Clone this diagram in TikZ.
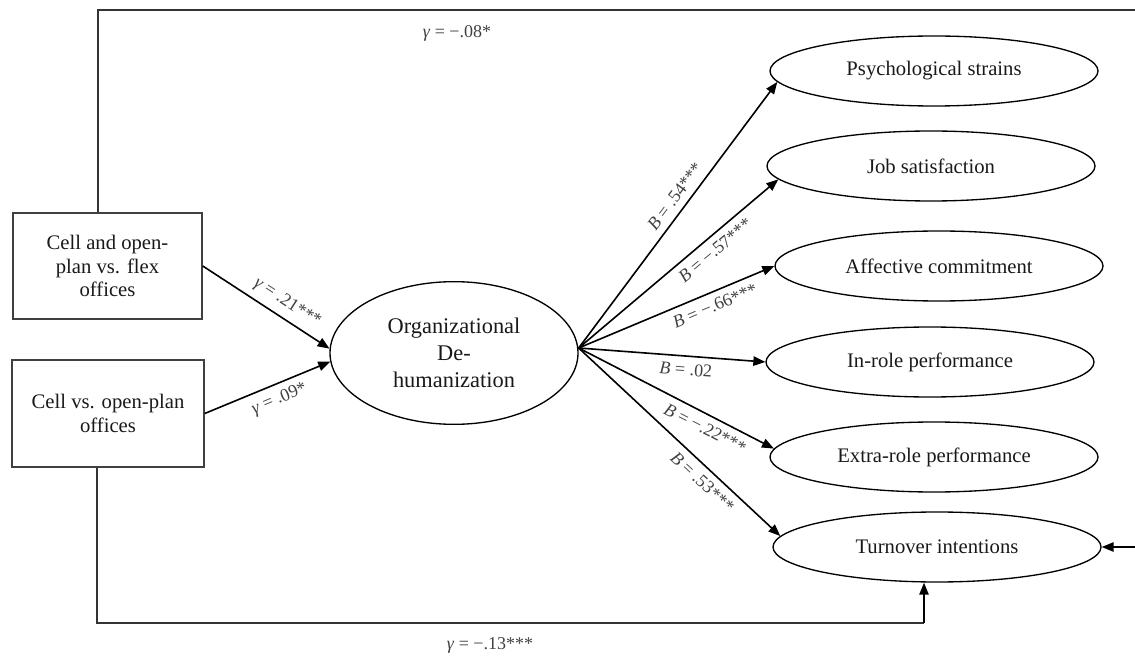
\documentclass[tikz,border=0pt]{standalone}
\usepackage{fontspec}
\setmainfont{Liberation Serif}
\usetikzlibrary{arrows.meta,calc,shapes.geometric}
\begin{document}
\begin{tikzpicture}[x=0.75pt,y=-0.75pt,
  boxst/.style={draw=black!75, line width=1.1pt, align=center, inner sep=0pt, text=black!90,
    font=\fontsize{15.5}{17.5}\selectfont},
  oval/.style={draw=black, line width=1pt, ellipse, minimum width=246pt, minimum height=52.5pt,
    inner sep=0pt, text=black!90, font=\fontsize{15.5}{18}\selectfont},
  arr/.style={-{Triangle[length=9pt,width=7pt]}, line width=1.2pt, draw=black},
  conn/.style={line width=1.1pt, draw=black!80},
  lab/.style={font=\fontsize{13.5}{15}\selectfont, text=black!75, inner sep=5pt}]
\useasboundingbox (0,0) rectangle (1135,659);

% left boxes
\node[boxst, minimum width=141.75pt, minimum height=79.5pt] (b1) at (107.5,266) {Cell and open-\\plan vs. flex\\offices};
\node[boxst, minimum width=144pt, minimum height=80pt] (b2) at (108,413.5) {Cell vs. open-plan\\offices};

% central ellipse
\node[oval, minimum width=186pt, minimum height=107pt, align=center,
  font=\fontsize{16.8}{20}\selectfont] (org) at (454,353) {Organizational\\De-\\humanization};

% outcome ellipses
\node[oval] (ps) at (934,71)  {Psychological strains};
\node[oval] (js) at (931,166) {Job satisfaction};
\node[oval] (ac) at (939,266) {Affective commitment};
\node[oval] (ir) at (930,362) {In-role performance};
\node[oval] (er) at (934,457) {Extra-role performance};
\node[oval] (to) at (937,547) {Turnover intentions};

% predictors to mediator
\draw[arr] (b1.east) -- (org.178) node[lab, pos=0.6, sloped, above] {\textit{γ} = .21***};
\draw[arr] (b2.east) -- (org.184) node[lab, pos=0.55, sloped, below] {\textit{γ} = .09*};

% mediator to outcomes
\coordinate (o) at ($(org.east)+(0,-5)$);
\draw[arr] (o) -- (ps.184) node[lab, pos=0.54, sloped, above] {\textit{B} = .54***};
\draw[arr] (o) -- (js.185) node[lab, pos=0.64, sloped, below] {\textit{B} = −.57***};
\draw[arr] (o) -- (ac.180) node[lab, pos=0.67, sloped, below] {\textit{B} = −.66***};
\draw[arr] (o) -- (ir.180) node[lab, pos=0.58, sloped, below] {\textit{B} = .02};
\draw[arr] (o) -- (er.177) node[lab, pos=0.68, sloped, below] {\textit{B} = −.22***};
\draw[arr] (o) -- (to.176) node[lab, pos=0.66, sloped, below] {\textit{B} = .53***};

% direct path on top
\coordinate (tl) at (98,10);
\coordinate (tr) at (1135,10);
\draw[conn] (tl |- b1.north) -- (tl) -- (tr);
\node[lab] (g1) at (457,33) {\textit{γ} = −.08*};

% arrow entering from right
\coordinate (re) at (1135,547);
\draw[arr] (re) -- (to.east);

% direct path at bottom
\coordinate (bl) at (97,623);
\coordinate (br) at (924,623);
\draw[conn] (bl |- b2.south) -- (bl) -- (br);
\draw[arr] (br) -- (br |- to.south);
\node[lab] (g2) at (490,645) {\textit{γ} = −.13***};
\end{tikzpicture}
\end{document}
